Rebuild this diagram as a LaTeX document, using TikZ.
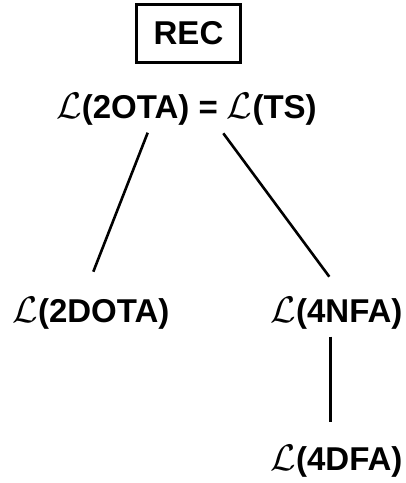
\documentclass[tikz,border=0pt]{standalone}
\usepackage{fix-cm}
\usepackage{fontspec}
\setmainfont{Liberation Sans}
\usetikzlibrary{calc}
\newcommand\Lang{{\fontsize{37}{40}\selectfont$\mathcal{L}$}}
\begin{document}
\begin{tikzpicture}[x=1pt,y=-1pt,
  lbl/.style={font=\fontsize{33}{38}\selectfont\bfseries, inner sep=0pt, anchor=base},
  recbox/.style={draw, line width=3pt, minimum width=104pt, minimum height=58pt,
    inner sep=0pt, font=\fontsize{33}{38}\selectfont\bfseries},
  edge/.style={line width=2.6pt}]
\useasboundingbox (0,0) rectangle (406,483);

% class boxes and labels
\node[recbox] (rec) at (188.5,33) {REC};
\node[lbl] (top)  at (186.5,118) {\Lang(2OTA) = \Lang(TS)};
\node[lbl] (dota) at (91,322)    {\Lang(2DOTA)};
\node[lbl] (nfa)  at (336.5,322) {\Lang(4NFA)};
\node[lbl] (dfa)  at (336.5,470) {\Lang(4DFA)};

% inclusion edges
\draw[edge] ($(top.base)+(-38.8,14.7)$) -- ($(dota.base)+(2.3,-50.3)$);
\draw[edge] ($(top.base)+(36.8,15.3)$)  -- ($(nfa.base)+(-7.2,-45.3)$);
\draw[edge] ($(nfa.base)+(-5.8,14.7)$)  -- ($(dfa.base)+(-5.8,-48.3)$);
\end{tikzpicture}
\end{document}
